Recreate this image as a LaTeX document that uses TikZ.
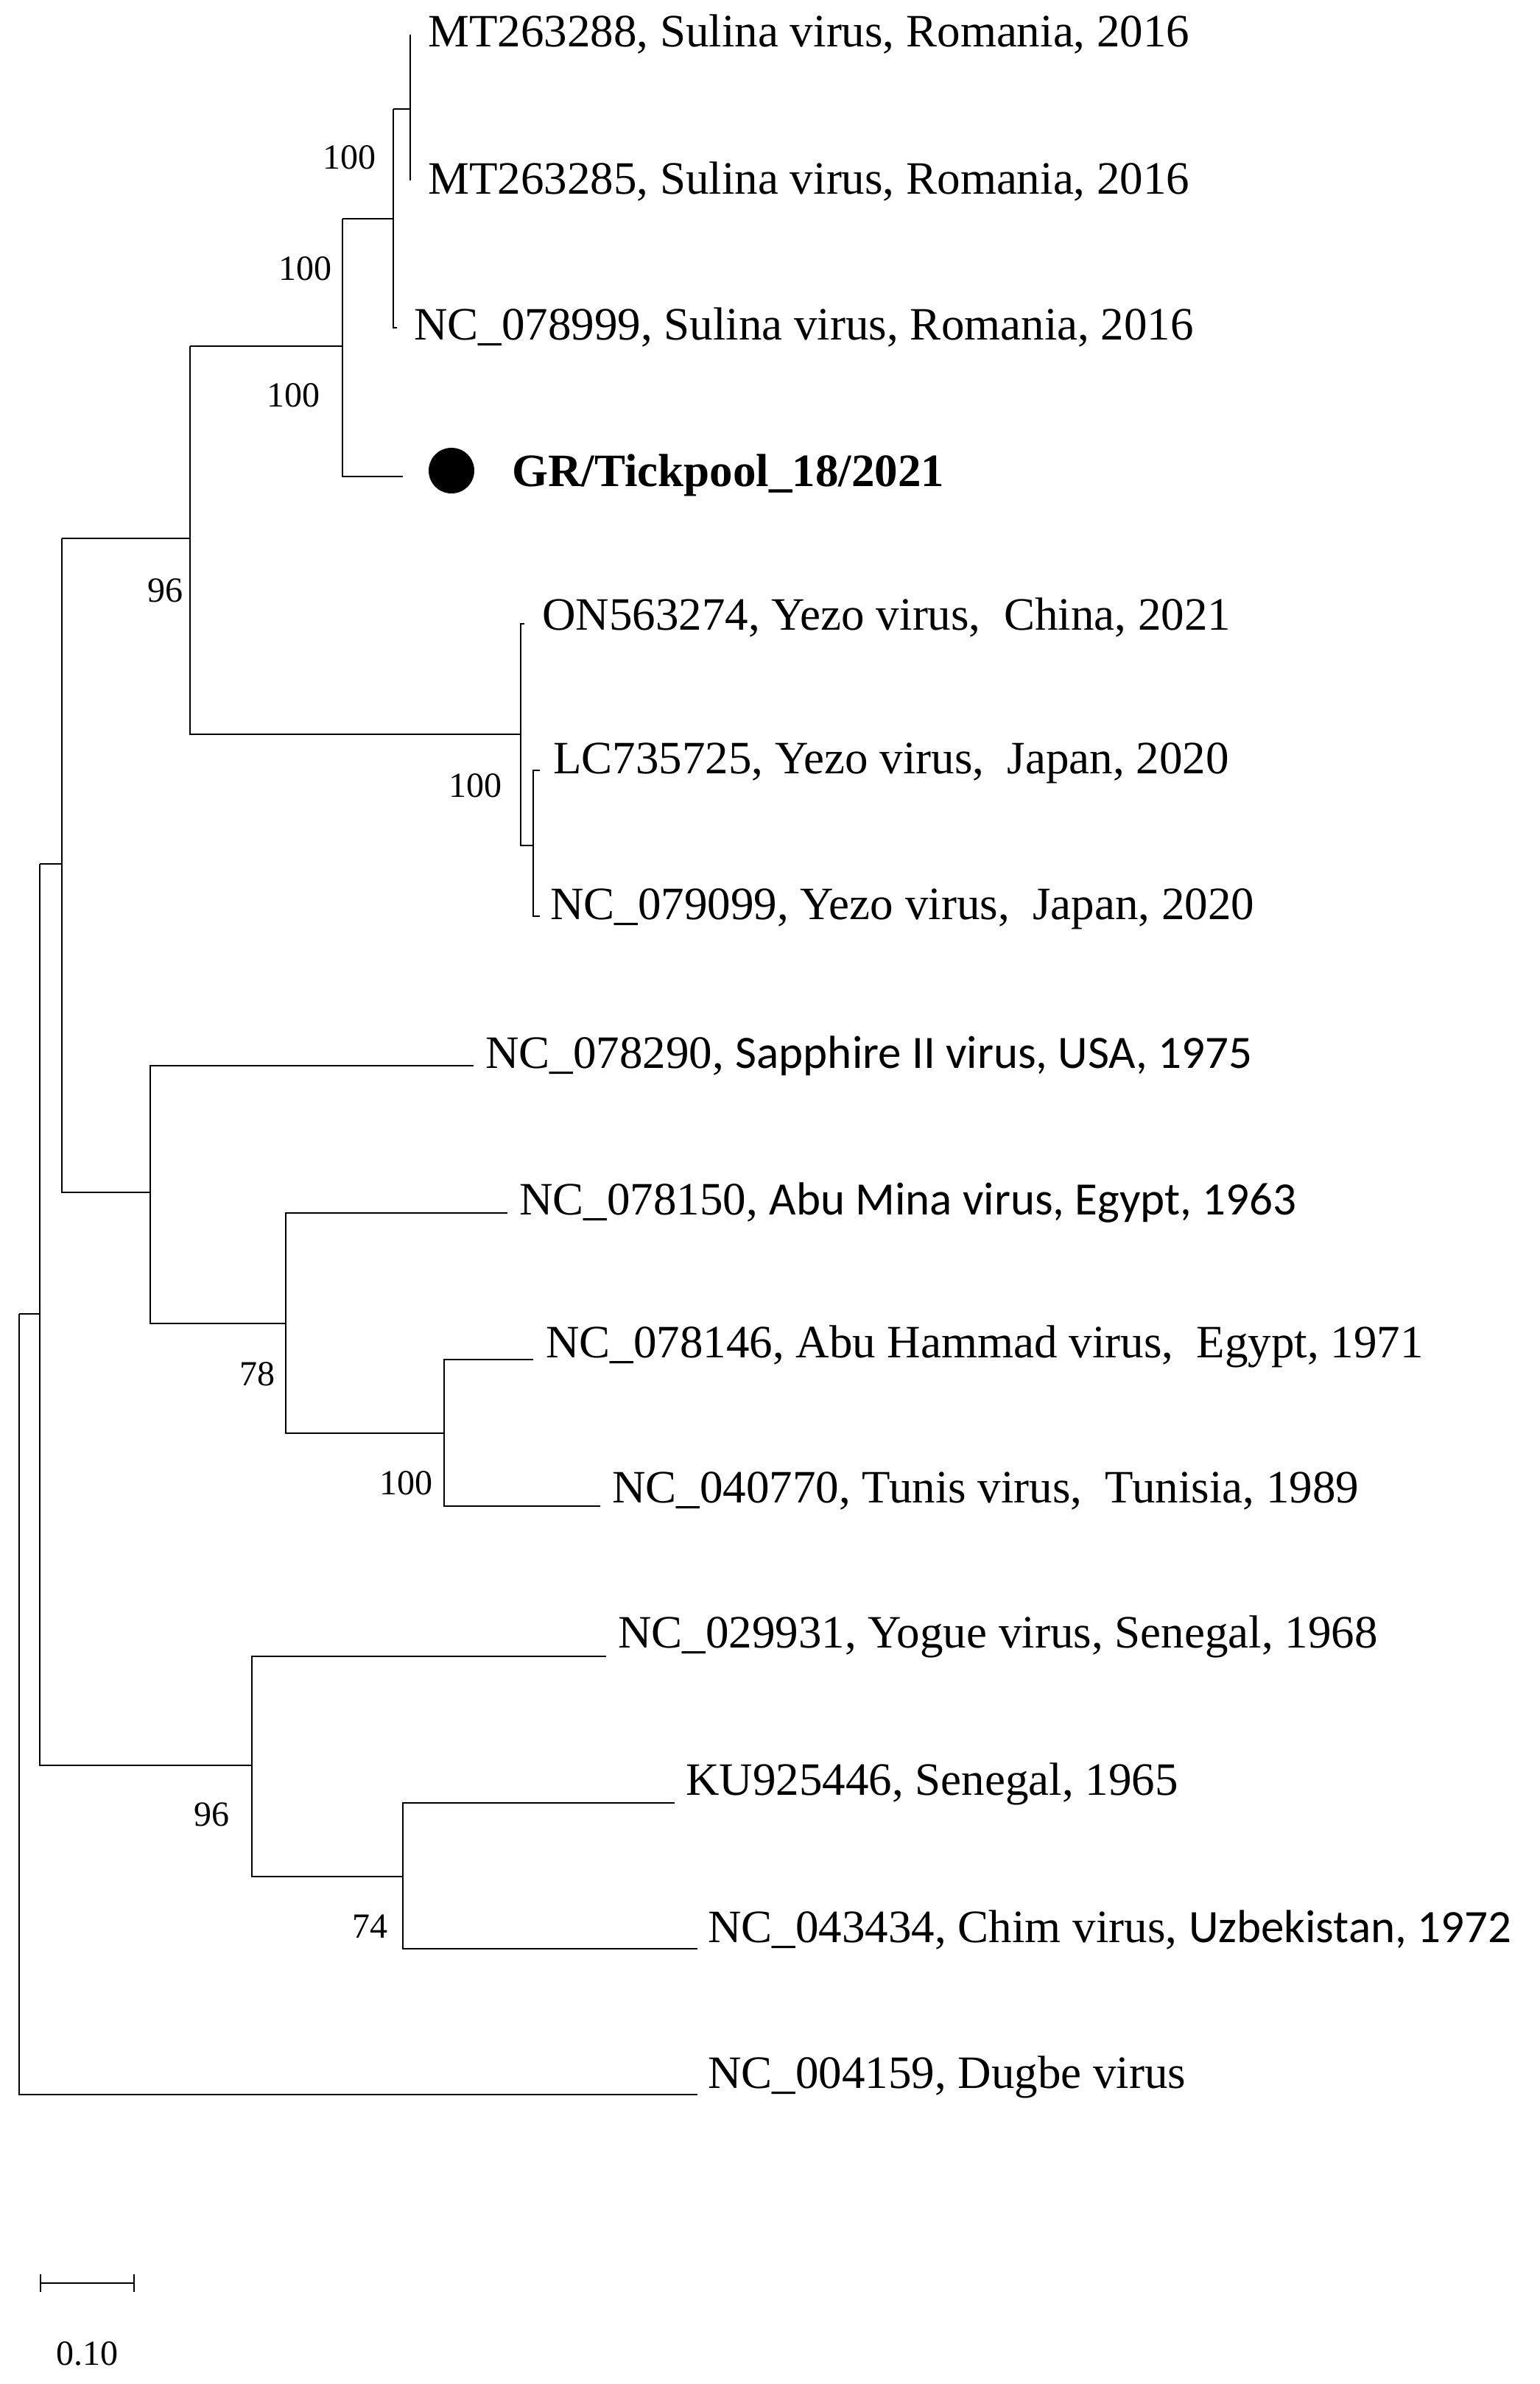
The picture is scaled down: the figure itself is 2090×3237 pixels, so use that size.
\documentclass[tikz,border=0pt]{standalone}
\usepackage{fontspec}
\setmainfont{Liberation Serif}
\newfontfamily\sansf{Carlito}
\begin{document}
\begin{tikzpicture}[x=0.5pt,y=-0.5pt,line width=1.2pt,
  leaf/.style={anchor=west,inner sep=0pt,font=\fontsize{31.5}{34}\selectfont},
  bs/.style={inner sep=0pt,font=\fontsize{24}{26}\selectfont}]
\useasboundingbox (0,0) rectangle (2090,3237);
% coordinates of leaf tips
\coordinate (l1) at (557,47);
\coordinate (l2) at (557,245);
\coordinate (l3) at (539,445);
\coordinate (l4) at (547,647);
\coordinate (l5) at (712,847);
\coordinate (l6) at (733,1046);
\coordinate (l7) at (733,1244);
\coordinate (l8) at (643,1447);
\coordinate (l9) at (689,1647);
\coordinate (l10) at (724,1846);
\coordinate (l11) at (815,2045);
\coordinate (l12) at (823,2249);
\coordinate (l13) at (916,2448);
\coordinate (l14) at (947,2646);
\coordinate (l15) at (947,2844);
% tree
\draw (l1) -- (557,245);
\draw (534,148) -- (557,148);
\draw (534,148) -- (534,445) -- (l3);
\draw (465,297) -- (534,297);
\draw (465,297) -- (465,647) -- (l4);
\draw (258,470) -- (465,470);
\draw (258,470) -- (258,997) -- (707,997);
\draw (l5) -- (707,847) -- (707,1148) -- (724,1148);
\draw (l6) -- (724,1046) -- (724,1244) -- (l7);
\draw (84,731) -- (258,731);
\draw (84,731) -- (84,1619) -- (204,1619);
\draw (l8) -- (204,1447) -- (204,1797) -- (388,1797);
\draw (l9) -- (388,1647) -- (388,1946) -- (603,1946);
\draw (l10) -- (603,1846) -- (603,2045) -- (l11);
\draw (54,1173) -- (84,1173);
\draw (54,1173) -- (54,2397) -- (342,2397);
\draw (26,1784) -- (54,1784);
\draw (l12) -- (342,2249) -- (342,2548) -- (547,2548);
\draw (l13) -- (547,2448) -- (547,2646) -- (l14);
\draw (26,1784) -- (26,2844) -- (l15);
% leaf labels
\node[leaf] (t1) at (580,46) {MT263288, Sulina virus, Romania, 2016};
\node[leaf] (t2) at (580,246) {MT263285, Sulina virus, Romania, 2016};
\node[leaf] (t3) at (561,444) {NC\_078999, Sulina virus, Romania, 2016};
\fill (613,639) circle (31);
\node[leaf,font=\fontsize{31.5}{34}\selectfont\bfseries] (t4) at (694,645) {GR/Tickpool\_18/2021};
\node[leaf] (t5) at (735,838) {ON563274, Yezo virus,\ \ China, 2021};
\node[leaf] (t6) at (750,1036) {LC735725, Yezo virus,\ \ Japan, 2020};
\node[leaf] (t7) at (746,1234) {NC\_079099, Yezo virus,\ \ Japan, 2020};
\node[leaf] (t8) at (658,1434) {NC\_078290, {\sansf Sapphire II virus, USA, 1975}};
\node[leaf] (t9) at (704,1633) {NC\_078150, {\sansf Abu Mina virus, Egypt, 1963}};
\node[leaf] (t10) at (740,1828) {NC\_078146, Abu Hammad virus,\ \ Egypt, 1971};
\node[leaf] (t11) at (830,2024) {NC\_040770, Tunis virus,\ \ Tunisia, 1989};
\node[leaf] (t12) at (838,2222) {NC\_029931, Yogue virus, Senegal, 1968};
\node[leaf] (t13) at (930,2422) {KU925446, Senegal, 1965};
\node[leaf] (t14) at (960,2620) {NC\_043434, Chim virus, {\sansf Uzbekistan, 1972}};
\node[leaf] (t15) at (960,2820) {NC\_004159, Dugbe virus};
% bootstrap
\node[bs] (b1) at (474,214) {100};
\node[bs] (b2) at (414,365) {100};
\node[bs] (b3) at (398,537) {100};
\node[bs] (b4) at (224,802) {96};
\node[bs] (b5) at (645,1067) {100};
\node[bs] (b6) at (349,1866) {78};
\node[bs] (b7) at (551,2014) {100};
\node[bs] (b8) at (287,2464) {96};
\node[bs] (b9) at (502,2616) {74};
% scale bar
\coordinate (s1) at (55,3100);
\coordinate (s2) at (182,3100);
\draw (s1) -- (s2);
\draw (55,3088) -- (55,3112);
\draw (182,3088) -- (182,3112);
\node[bs] (sl) at (118,3196) {0.10};
\end{tikzpicture}
\end{document}
